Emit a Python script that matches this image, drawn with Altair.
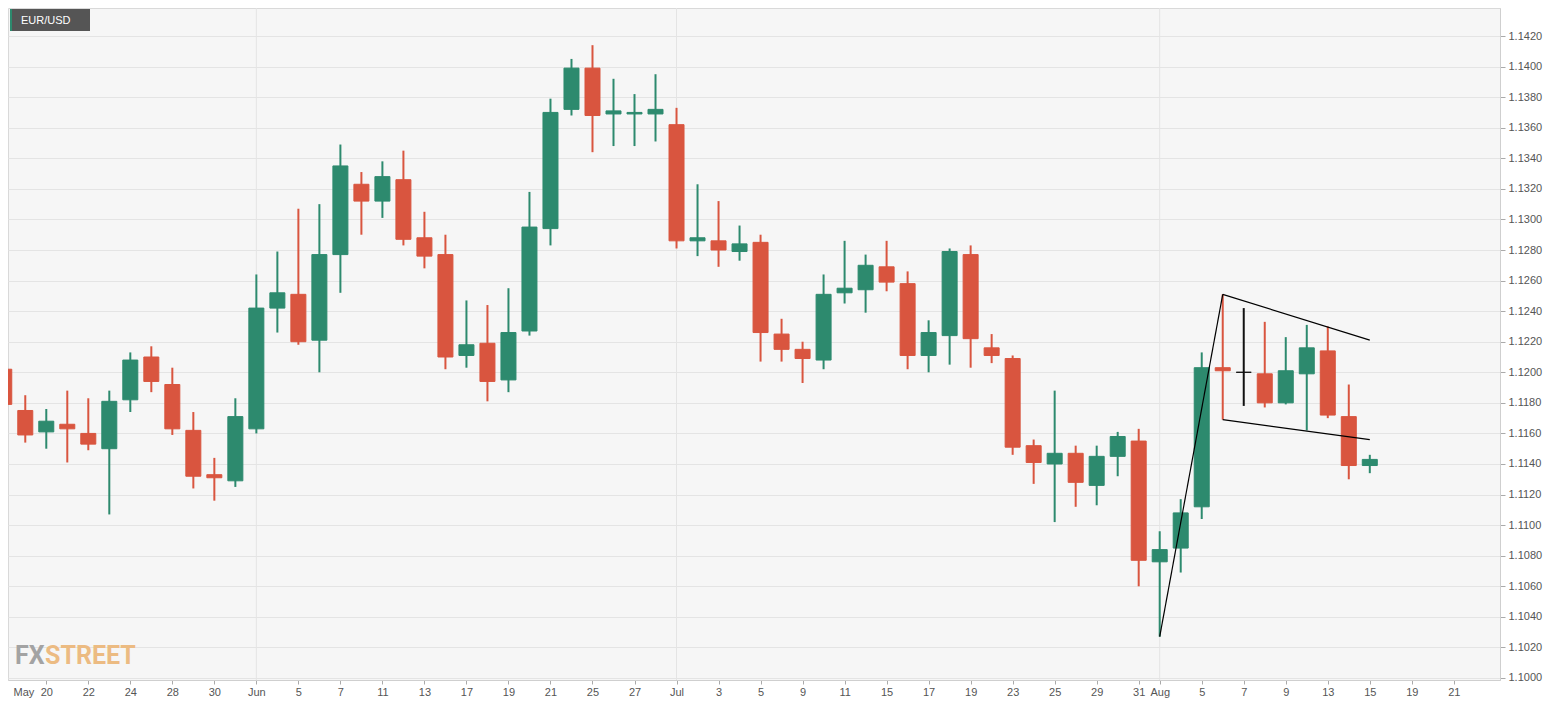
import json
import pandas as pd
import altair as alt

# ---------------- data (EUR/USD daily candles, 2019) ----------------
dates = [
    "2019-05-16", "2019-05-17", "2019-05-20", "2019-05-21", "2019-05-22", "2019-05-23", "2019-05-24",
    "2019-05-27", "2019-05-28", "2019-05-29", "2019-05-30", "2019-05-31",
    "2019-06-03", "2019-06-04", "2019-06-05", "2019-06-06", "2019-06-07",
    "2019-06-10", "2019-06-11", "2019-06-12", "2019-06-13", "2019-06-14",
    "2019-06-17", "2019-06-18", "2019-06-19", "2019-06-20", "2019-06-21",
    "2019-06-24", "2019-06-25", "2019-06-26", "2019-06-27", "2019-06-28",
    "2019-07-01", "2019-07-02", "2019-07-03", "2019-07-04", "2019-07-05",
    "2019-07-08", "2019-07-09", "2019-07-10", "2019-07-11", "2019-07-12",
    "2019-07-15", "2019-07-16", "2019-07-17", "2019-07-18", "2019-07-19",
    "2019-07-22", "2019-07-23", "2019-07-24", "2019-07-25", "2019-07-26",
    "2019-07-29", "2019-07-30", "2019-07-31", "2019-08-01", "2019-08-02",
    "2019-08-05", "2019-08-06", "2019-08-07", "2019-08-08", "2019-08-09",
    "2019-08-12", "2019-08-13", "2019-08-14", "2019-08-15",
]
opens = [
    1.1202, 1.1175, 1.1161, 1.1166, 1.1160, 1.1150, 1.1182,
    1.1210, 1.1192, 1.1162, 1.1133, 1.1129,
    1.1163, 1.1242, 1.1251, 1.1221, 1.1277,
    1.1323, 1.1312, 1.1326, 1.1288, 1.1277,
    1.1211, 1.1219, 1.1195, 1.1227, 1.1294,
    1.1372, 1.1399, 1.1369, 1.1369, 1.1369,
    1.1362, 1.1286, 1.1286, 1.1279, 1.1285,
    1.1225, 1.1215, 1.1208, 1.1252, 1.1254,
    1.1269, 1.1258, 1.1211, 1.1224, 1.1277,
    1.1216, 1.1209, 1.1152, 1.1140, 1.1147,
    1.1126, 1.1145, 1.1155, 1.1076, 1.1085,
    1.1112, 1.1203, 1.1200, 1.1199, 1.1180,
    1.1199, 1.1214, 1.1171, 1.1139,
]
highs = [
    1.1225, 1.1185, 1.1176, 1.1188, 1.1183, 1.1188, 1.1213,
    1.1217, 1.1203, 1.1174, 1.1144, 1.1183,
    1.1264, 1.1279, 1.1307, 1.1310, 1.1349,
    1.1331, 1.1338, 1.1345, 1.1305, 1.1290,
    1.1247, 1.1244, 1.1255, 1.1318, 1.1379,
    1.1405, 1.1414, 1.1392, 1.1382, 1.1395,
    1.1373, 1.1323, 1.1312, 1.1296, 1.1290,
    1.1235, 1.1220, 1.1264, 1.1286, 1.1277,
    1.1286, 1.1266, 1.1234, 1.1281, 1.1283,
    1.1225, 1.1211, 1.1156, 1.1188, 1.1152,
    1.1152, 1.1161, 1.1163, 1.1096, 1.1117,
    1.1213, 1.1251, 1.1242, 1.1233, 1.1223,
    1.1231, 1.1230, 1.1192, 1.1146,
]
lows = [
    1.1167, 1.1154, 1.1150, 1.1141, 1.1149, 1.1107, 1.1174,
    1.1187, 1.1159, 1.1124, 1.1116, 1.1125,
    1.1160, 1.1226, 1.1218, 1.1200, 1.1252,
    1.1290, 1.1301, 1.1283, 1.1268, 1.1202,
    1.1203, 1.1181, 1.1187, 1.1224, 1.1283,
    1.1368, 1.1344, 1.1348, 1.1348, 1.1351,
    1.1281, 1.1276, 1.1269, 1.1273, 1.1207,
    1.1207, 1.1193, 1.1202, 1.1245, 1.1239,
    1.1253, 1.1202, 1.1200, 1.1205, 1.1203,
    1.1206, 1.1146, 1.1127, 1.1102, 1.1112,
    1.1113, 1.1132, 1.1060, 1.1027, 1.1069,
    1.1104, 1.1169, 1.1178, 1.1177, 1.1179,
    1.1162, 1.1170, 1.1130, 1.1134,
]
closes = [
    1.1179, 1.1159, 1.1168, 1.1163, 1.1153, 1.1181, 1.1208,
    1.1194, 1.1163, 1.1132, 1.1131, 1.1171,
    1.1242, 1.1252, 1.1220, 1.1277, 1.1335,
    1.1312, 1.1328, 1.1287, 1.1276, 1.1210,
    1.1218, 1.1194, 1.1226, 1.1295, 1.1370,
    1.1399, 1.1368, 1.1371, 1.1370, 1.1372,
    1.1286, 1.1288, 1.1280, 1.1284, 1.1226,
    1.1215, 1.1209, 1.1251, 1.1255, 1.1270,
    1.1259, 1.1211, 1.1226, 1.1279, 1.1222,
    1.1211, 1.1151, 1.1141, 1.1147, 1.1128,
    1.1145, 1.1158, 1.1077, 1.1084, 1.1108,
    1.1203, 1.1201, 1.1200, 1.1180, 1.1201,
    1.1216, 1.1172, 1.1139, 1.1143,
]

# x-axis tick labels (trading-day axis)
tick_dates = [
    "2019-05-16", "2019-05-20", "2019-05-22", "2019-05-24", "2019-05-28", "2019-05-30",
    "2019-06-03", "2019-06-05", "2019-06-07", "2019-06-11", "2019-06-13", "2019-06-17",
    "2019-06-19", "2019-06-21", "2019-06-25", "2019-06-27",
    "2019-07-01", "2019-07-03", "2019-07-05", "2019-07-09", "2019-07-11", "2019-07-15",
    "2019-07-17", "2019-07-19", "2019-07-23", "2019-07-25", "2019-07-29", "2019-07-31",
    "2019-08-01", "2019-08-05", "2019-08-07", "2019-08-09", "2019-08-13", "2019-08-15",
    "2019-08-19", "2019-08-21",
]
tick_texts = [
    "May", "20", "22", "24", "28", "30",
    "Jun", "5", "7", "11", "13", "17",
    "19", "21", "25", "27",
    "Jul", "3", "5", "9", "11", "15",
    "17", "19", "23", "25", "29", "31",
    "Aug", "5", "7", "9", "13", "15",
    "19", "21",
]
y_ticks = [1.1000, 1.1020, 1.1040, 1.1060, 1.1080, 1.1100, 1.1120, 1.1140, 1.1160, 1.1180,
           1.1200, 1.1220, 1.1240, 1.1260, 1.1280, 1.1300, 1.1320, 1.1340, 1.1360, 1.1380,
           1.1400, 1.1420]

# drawn pattern lines (flag pole + pennant)
trend_segment = ["pole", "pole", "upper", "upper", "lower", "lower"]
trend_dates = ["2019-08-01", "2019-08-06", "2019-08-06", "2019-08-15", "2019-08-06", "2019-08-15"]
trend_prices = [1.1027, 1.1251, 1.1251, 1.1221, 1.1169, 1.1156]

# ---------------- build tables ----------------
calendar = pd.bdate_range("2019-05-16", "2019-08-23")
pos = {d.strftime("%Y-%m-%d"): i for i, d in enumerate(calendar)}

X0, X1 = 0.416, 70.96
Y0, Y1 = 1.099869, 1.143832
W, H = 1492, 672

candles = pd.DataFrame({
    "date": dates, "open": opens, "high": highs, "low": lows, "close": closes,
})
candles["i"] = [pos[d] for d in dates]

month_starts = pd.DataFrame({
    "i": [pos[d] for k, d in enumerate(dates) if k > 0 and d[5:7] != dates[k - 1][5:7]]
})

trend = pd.DataFrame({
    "seg": trend_segment,
    "i": [pos[d] for d in trend_dates],
    "price": trend_prices,
})

tick_vals = [max(pos[d], X0) for d in tick_dates]
label_arr = [""] * (len(calendar) + 1)
for d, t in zip(tick_dates[1:], tick_texts[1:]):
    label_arr[pos[d]] = t
label_expr = ("datum.value < 1 ? '" + tick_texts[0] + "' : "
              + json.dumps(label_arr) + "[round(datum.value)]")

FONT = "Liberation Sans"
GRID = "#e4e4e4"

x_scale = alt.Scale(domain=[X0, X1], nice=False, zero=False)
y_scale = alt.Scale(domain=[Y0, Y1], nice=False, zero=False)

x_axis = alt.Axis(
    values=tick_vals, labelExpr=label_expr, grid=False, title=None,
    tickColor={"condition": {"test": "datum.value < 1", "value": "transparent"}, "value": "#aaaaaa"},
    labelAlign={"condition": {"test": "datum.value < 1", "value": "left"}, "value": "center"},
    tickSize=4, domainColor="#cfcfcf",
    labelColor="#555555", labelFont=FONT, labelFontSize=11,
    labelPadding=2, labelOverlap=False, labelBound=False,
)
y_axis = alt.Axis(values=y_ticks, format=".4f", orient="right", title=None,
                  grid=True, gridColor=GRID, tickColor="#aaaaaa", tickSize=5,
                  domainColor="#cfcfcf", labelColor="#555555", labelFont=FONT,
                  labelFontSize=11, labelPadding=3, labelOverlap=False)

color = alt.Color("dir:N", legend=None,
                  scale=alt.Scale(domain=["up", "down", "flat"],
                                  range=["#2d8a6e", "#d9553f", "#111111"]))

base = alt.Chart(candles).transform_calculate(
    dir="datum.close > datum.open ? 'up' : (datum.close < datum.open ? 'down' : 'flat')"
)

grid_v = alt.Chart(month_starts).mark_rule(color=GRID, strokeWidth=1).encode(
    x=alt.X("i:Q", scale=x_scale, axis=x_axis),
)

wicks = base.mark_rule(strokeWidth=2, clip=True).encode(
    x=alt.X("i:Q", scale=x_scale, axis=x_axis),
    y=alt.Y("low:Q", scale=y_scale, axis=y_axis),
    y2="high:Q",
    color=color,
)

bodies = base.mark_bar(size=15, strokeWidth=1, clip=True).encode(
    x=alt.X("i:Q", scale=x_scale, axis=x_axis),
    y=alt.Y("open:Q", scale=y_scale, axis=y_axis),
    y2="close:Q",
    color=color,
    stroke=color,
)

lines = alt.Chart(trend).mark_line(color="#000000", strokeWidth=1.2, clip=True).encode(
    x=alt.X("i:Q", scale=x_scale, axis=x_axis),
    y=alt.Y("price:Q", scale=y_scale, axis=y_axis),
    detail="seg:N",
)

one = pd.DataFrame({"a": [0]})
box = alt.Chart(one).mark_rect(color="#555555").encode(
    x=alt.value(2), x2=alt.value(82), y=alt.value(1), y2=alt.value(23)
)
strip = alt.Chart(one).mark_rect(color="#2d8a6e").encode(
    x=alt.value(2), x2=alt.value(4), y=alt.value(1), y2=alt.value(23)
)
box_text = alt.Chart(one).mark_text(
    text="EUR/USD", color="#ffffff", font=FONT, fontSize=11, align="left", baseline="middle"
).encode(x=alt.value(13), y=alt.value(12.5))

logo_fx = alt.Chart(one).mark_text(
    text="FX", color="#a3a3a3", font="Roboto", fontWeight="bold",
    fontSize=25, align="left", baseline="alphabetic"
).encode(x=alt.value(7), y=alt.value(H - 16))
logo_street = alt.Chart(one).mark_text(
    text="STREET", color="#ecbb82", font="Roboto", fontWeight="bold",
    fontSize=25, align="left", baseline="alphabetic"
).encode(x=alt.value(37), y=alt.value(H - 16))

chart = alt.layer(
    grid_v, wicks, bodies, lines, box, strip, box_text, logo_fx, logo_street
).properties(
    width=W, height=H,
    autosize=alt.AutoSizeParams(type="none"),
    padding={"left": 0, "top": 0, "right": 46, "bottom": 18},
    background="#ffffff",
).configure_view(
    fill="#f6f6f6", stroke="#d9d9d9"
)

chart.save("out.html", embed_options={"renderer": "svg", "actions": False})
